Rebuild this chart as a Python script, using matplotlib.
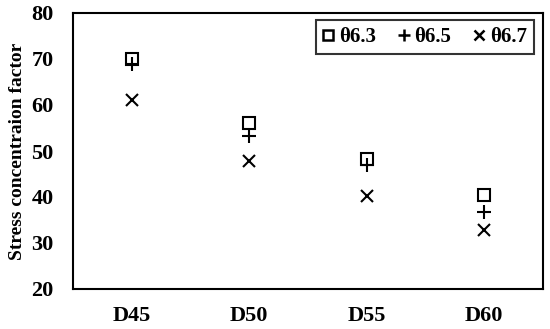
import matplotlib.pyplot as plt

plt.rcParams['font.family'] = ['Liberation Serif', 'DejaVu Serif']
plt.rcParams['font.weight'] = 'bold'

cases = ['D45', 'D50', 'D55', 'D60']
scf_63 = [70, 56, 48.3, 40.5]
scf_65 = [69, 53.3, 47, 36.7]
scf_67 = [61, 47.8, 40.3, 32.8]

fig = plt.figure(figsize=(5.5, 3.29), dpi=100)
ax = fig.add_axes([73 / 550, 40 / 329, 470 / 550, 276 / 329])

x = range(1, len(cases) + 1)
ax.plot(x, scf_63, ls='none', marker='s', ms=9, mfc='none', mec='black', mew=1.5, label='θ6.3')
ax.plot(x, scf_65, ls='none', marker='+', ms=10, mec='black', mew=1.5, label='θ6.5')
ax.plot(x, scf_67, ls='none', marker='x', ms=9, mec='black', mew=1.5, label='θ6.7')

ax.set_xlim(0.5, 4.5)
ax.set_ylim(20, 80)
ax.set_xticks(list(x))
ax.set_xticklabels(cases)
ax.set_yticks(range(20, 81, 10))
ax.tick_params(length=0, labelsize=16, pad=14)
ax.tick_params(axis='x', pad=12)
for s in ax.spines.values():
    s.set_linewidth(1.5)
ax.set_ylabel('Stress concentraion factor', fontsize=14, fontweight='bold', labelpad=4)

leg = ax.legend(loc='upper right', ncol=3, fontsize=15, frameon=True, fancybox=False,
                markerscale=0.8, handlelength=0.5, handletextpad=0.25, columnspacing=1.1,
                borderpad=0.35, borderaxespad=0, bbox_to_anchor=(0.981, 0.975))
leg.get_frame().set_edgecolor('black')
leg.get_frame().set_linewidth(1.5)
for h in leg.legend_handles:
    h.set_markeredgewidth(1.8)

fig.savefig('out.png', dpi=100)
